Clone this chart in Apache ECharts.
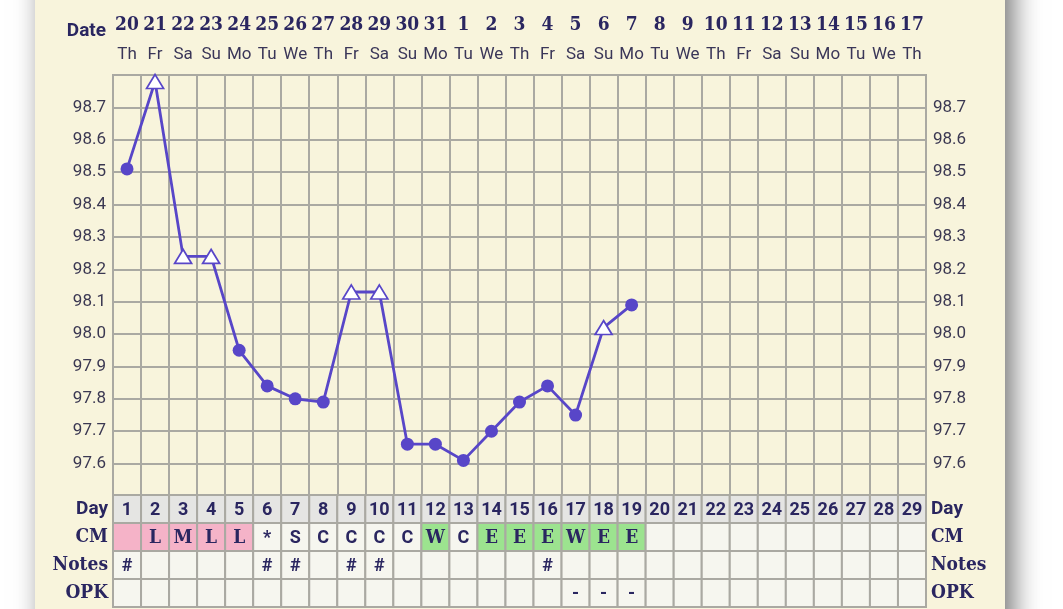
<!DOCTYPE html>
<html><head><meta charset="utf-8">
<script src="https://cdn.jsdelivr.net/npm/echarts@6/dist/echarts.min.js"></script>
<style>
html,body{margin:0;padding:0;background:#fff;overflow:hidden;}
#panel{position:absolute;left:35px;top:-30px;width:970px;height:680px;background:#f8f4dc;box-shadow:8px 0 26px rgba(0,0,0,0.55);}
#c{position:absolute;left:0;top:0;width:1063px;height:609px;}
</style>
</head><body><div id="panel"></div><div id="c"></div>
<script>
const dates = ['20','21','22','23','24','25','26','27','28','29','30','31','1','2','3','4','5','6','7','8','9','10','11','12','13','14','15','16','17'];
const weekdays = ['Th','Fr','Sa','Su','Mo','Tu','We','Th','Fr','Sa','Su','Mo','Tu','We','Th','Fr','Sa','Su','Mo','Tu','We','Th','Fr','Sa','Su','Mo','Tu','We','Th'];
const cycleDays = ['1','2','3','4','5','6','7','8','9','10','11','12','13','14','15','16','17','18','19','20','21','22','23','24','25','26','27','28','29'];
const temps = [98.51, 98.78, 98.24, 98.24, 97.95, 97.84, 97.80, 97.79, 98.13, 98.13, 97.66, 97.66, 97.61, 97.70, 97.79, 97.84, 97.75, 98.02, 98.09];
const openMarker = [0,1,1,1,0,0,0,0,1,1,0,0,0,0,0,0,0,1,0];
const cmCodes = ['','L','M','L','L','*','S','C','C','C','C','W','C','E','E','E','W','E','E'];
const cmShade = ['p','p','p','p','p','','','','','','','g','','g','g','g','g','g','g'];
const notes = ['#','','','','','#','#','','#','#','','','','','','#','','',''];
const opk = ['','','','','','','','','','','','','','','','','-','-','-'];
const rowLabels = ['Day','CM','Notes','OPK'];

const NAVY = '#2a2660';
const LINE = '#5846c8';
const GRIDC = '#aaa9a2';
const SLAB = "'DejaVu Serif Condensed','DejaVu Serif',serif";
const SANS = "Roboto, 'Noto Sans', sans-serif";

const cells = [];
for (let i = 0; i < 29; i++) {
  cells.push({v:[i,0], text: cycleDays[i], fill:'#e5e5e3', font: SANS, size: 18});
  const cm = cmCodes[i] || '';
  const sh = cmShade[i] || '';
  const slab = (cm === 'L' || cm === 'M' || cm === 'W' || cm === 'E');
  cells.push({v:[i,1], text: cm, fill: sh==='p' ? '#f5b3c8' : (sh==='g' ? '#9ce38f' : '#f6f6ef'), font: slab ? SLAB : SANS, size: slab ? 19 : 18});
  cells.push({v:[i,2], text: notes[i] || '', fill:'#f6f6ef', font: SANS, size: 18});
  cells.push({v:[i,3], text: opk[i] || '', fill:'#f6f6ef', font: SANS, size: 18});
}

const lineData = temps.map((t, i) => openMarker[i]
  ? {value: t, symbol: 'triangle', symbolSize: [17, 14], itemStyle: {color: '#ffffff', borderColor: LINE, borderWidth: 1.7}}
  : {value: t, symbol: 'circle', symbolSize: 13, itemStyle: {color: LINE, borderColor: LINE, borderWidth: 0}});

const chart = echarts.init(document.getElementById('c'), null, {renderer: 'canvas'});
const yFmt = v => (v < 97.55 || v > 98.75) ? '' : v.toFixed(1);
const rowRich = {
  s: {fontFamily: SANS, fontWeight: 'bold', fontSize: 19, color: NAVY},
  f: {fontFamily: SLAB, fontWeight: 'bold', fontSize: 19, color: NAVY}
};
const rowFmt = v => v === 'Day' ? '{s|Day}' : '{f|' + v + '}';

chart.setOption({
  animation: false,
  backgroundColor: 'transparent',
  graphic: [{
    type: 'text', right: 1063 - 106, top: 22,
    style: {text: 'Date', fontFamily: SANS, fontWeight: 'bold', fontSize: 19, fill: NAVY, textAlign: 'right'}
  }],
  grid: [
    {left: 113, top: 75, width: 813, height: 421, show: true, borderColor: GRIDC, borderWidth: 2, backgroundColor: 'transparent'},
    {left: 113, top: 495, width: 813, height: 112, show: false}
  ],
  xAxis: [
    {type: 'category', gridIndex: 0, position: 'top', data: dates, boundaryGap: true,
     axisLine: {show: false}, axisTick: {show: false},
     splitLine: {show: true, interval: 0, lineStyle: {color: GRIDC, width: 2}},
     axisLabel: {interval: 0, margin: 6,
       formatter: (v, i) => '{d|' + v + '}\n{w|' + weekdays[i] + '}',
       rich: {
         d: {fontFamily: SLAB, fontWeight: 'bold', fontSize: 19, color: NAVY, lineHeight: 29},
         w: {fontFamily: SANS, fontSize: 17, color: '#3a3658', lineHeight: 29}
       }}},
    {type: 'category', gridIndex: 1, data: cycleDays, show: false}
  ],
  yAxis: [
    {type: 'value', gridIndex: 0, min: 97.5, max: 98.8, interval: 0.1, position: 'left',
     axisLine: {show: false}, axisTick: {show: false},
     splitLine: {show: true, lineStyle: {color: GRIDC, width: 2}},
     axisLabel: {formatter: yFmt, margin: 7, fontFamily: SANS, fontSize: 17, color: '#3b3852'}},
    {type: 'value', gridIndex: 0, min: 97.5, max: 98.8, interval: 0.1, position: 'right',
     axisLine: {show: false}, axisTick: {show: false}, splitLine: {show: false},
     axisLabel: {formatter: yFmt, margin: 7, fontFamily: SANS, fontSize: 17, color: '#3b3852'}},
    {type: 'category', gridIndex: 1, data: rowLabels, inverse: true, position: 'left',
     axisLine: {show: false}, axisTick: {show: false}, splitLine: {show: false},
     axisLabel: {margin: 5, formatter: rowFmt, rich: rowRich}},
    {type: 'category', gridIndex: 1, data: rowLabels, inverse: true, position: 'right',
     axisLine: {show: false}, axisTick: {show: false}, splitLine: {show: false},
     axisLabel: {margin: 5, formatter: rowFmt, rich: rowRich}}
  ],
  series: [
    {type: 'line', xAxisIndex: 0, yAxisIndex: 0, data: lineData,
     lineStyle: {color: LINE, width: 2.8}, z: 3},
    {type: 'custom', xAxisIndex: 1, yAxisIndex: 2, data: cells.map(c => c.v),
     renderItem: (params, api) => {
       const c = cells[params.dataIndex];
       const p = api.coord([api.value(0), api.value(1)]);
       const s = api.size([1, 1]);
       return {
         type: 'group',
         children: [
           {type: 'rect', shape: {x: p[0] - s[0] / 2, y: p[1] - s[1] / 2, width: s[0], height: s[1]},
            style: {fill: c.fill, stroke: GRIDC, lineWidth: 2}},
           {type: 'text', x: p[0], y: p[1] + 1,
            style: {text: c.text, fontFamily: c.font, fontWeight: 'bold', fontSize: c.size, fill: NAVY,
                    textAlign: 'center', textVerticalAlign: 'middle'}}
         ]
       };
     }}
  ]
});
</script>
</body></html>
